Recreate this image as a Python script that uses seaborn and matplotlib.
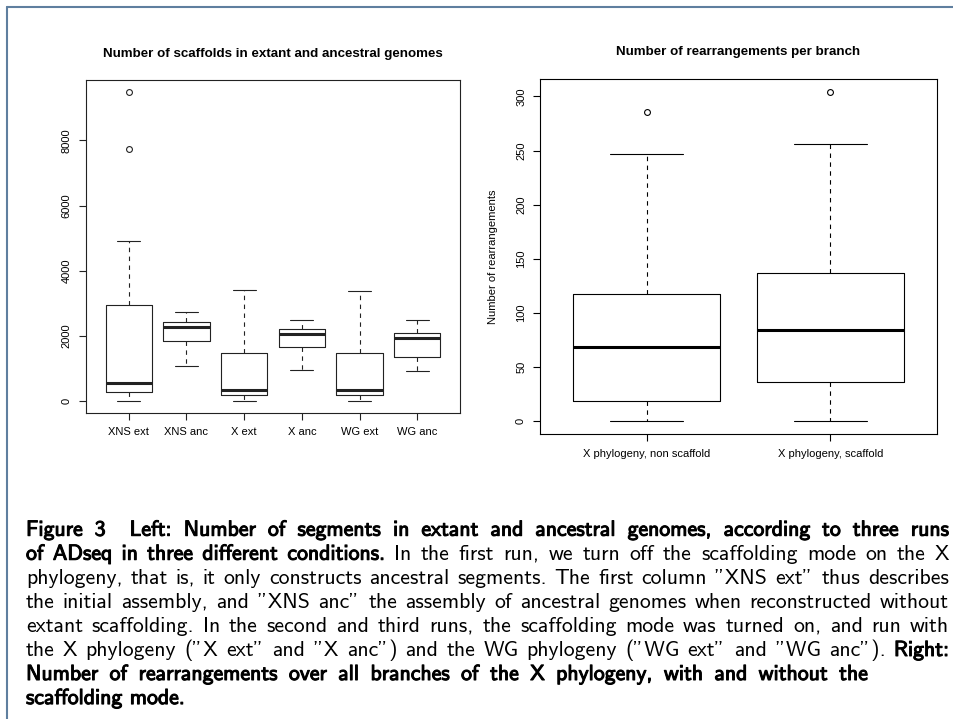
import matplotlib
matplotlib.use("Agg")
import matplotlib.pyplot as plt
import matplotlib.patheffects as pe
from matplotlib.lines import Line2D
import seaborn as sns

# ---- Left panel: number of scaffolds per genome, by run (box summaries) ----
seg_labels = ["XNS ext", "XNS anc", "X ext", "X anc", "WG ext", "WG anc"]
seg_low = [0, 1070, 0, 950, 0, 925]
seg_q1 = [265, 1845, 165, 1650, 165, 1335]
seg_med = [545, 2255, 320, 2050, 320, 1930]
seg_q3 = [2955, 2420, 1465, 2205, 1455, 2070]
seg_high = [4920, 2720, 3415, 2475, 3385, 2480]
seg_out = [[7730, 9480], [], [], [], [], []]
seg_yticks = [0, 2000, 4000, 6000, 8000]

# ---- Right panel: number of rearrangements per branch ----
rea_labels = ["X phylogeny, non scaffold", "X phylogeny, scaffold"]
rea_low = [0, 0]
rea_q1 = [18, 35.5]
rea_med = [68, 84]
rea_q3 = [117, 136.5]
rea_high = [247, 256]
rea_out = [[286], [304]]
rea_yticks = [0, 50, 100, 150, 200, 250, 300]

sns.set_theme(style="white", rc={
    "axes.edgecolor": "black", "axes.linewidth": 0.8,
    "text.color": "black", "axes.labelcolor": "black",
    "xtick.color": "black", "ytick.color": "black",
})
plt.rcParams["font.family"] = ["Liberation Sans", "DejaVu Sans"]

W, H = 954, 719
fig = plt.figure(figsize=(W / 100, H / 100), dpi=100)
fig.patch.set_facecolor("white")


def px_axes(left, top, right, bottom):
    return fig.add_axes([left / W, 1 - bottom / H, (right - left) / W, (bottom - top) / H])


def summaries(low, q1, med, q3, high, out, labels):
    return [dict(whislo=a, q1=b, med=c, q3=d, whishi=e, fliers=f, label=g)
            for a, b, c, d, e, f, g in zip(low, q1, med, q3, high, out, labels)]


def draw_boxes(ax, stats, yticks, line_color):
    n = len(stats)
    ax.bxp(stats, positions=list(range(1, n + 1)), widths=0.8, capwidths=0.4,
           showfliers=True,
           boxprops=dict(color=line_color, lw=0.8),
           medianprops=dict(color=line_color, lw=2.2, solid_capstyle="butt"),
           whiskerprops=dict(color=line_color, lw=0.8, linestyle=(0, (4, 4))),
           capprops=dict(color=line_color, lw=0.8),
           flierprops=dict(marker="o", markerfacecolor="none", markeredgecolor=line_color,
                           markersize=4.2, markeredgewidth=0.8))
    lo = min(s["whislo"] for s in stats)
    hi = max([s["whishi"] for s in stats] + [v for s in stats for v in s["fliers"]])
    pad = 0.04 * (hi - lo)
    ax.set_ylim(lo - pad, hi + pad)
    ax.set_xlim(0.5 - 0.04 * n, n + 0.5 + 0.04 * n)
    ax.set_yticks(yticks)
    ax.set_yticklabels([str(t) for t in yticks])
    ax.tick_params(axis="both", direction="out", length=5, width=0.8, color=line_color,
                   left=True, bottom=True, top=False, right=False, labelsize=8)
    ax.tick_params(axis="y", labelrotation=90, pad=5.5)
    ax.tick_params(axis="x", pad=5)
    for lab in ax.get_yticklabels():
        lab.set_va("center")
    for sp in ax.spines.values():
        sp.set_color(line_color)
        sp.set_linewidth(0.8)
    ax.grid(False)


ax1 = px_axes(86, 80, 460, 413)
draw_boxes(ax1, summaries(seg_low, seg_q1, seg_med, seg_q3, seg_high, seg_out, seg_labels),
           seg_yticks, "#222222")
ax1.set_title("Number of scaffolds in extant and ancestral genomes",
              fontsize=9.6, fontweight="bold", pad=16.5)

ax2 = px_axes(540, 79, 937, 434)
draw_boxes(ax2, summaries(rea_low, rea_q1, rea_med, rea_q3, rea_high, rea_out, rea_labels),
           rea_yticks, "black")
ax2.tick_params(axis="y", pad=5)
ax2.tick_params(axis="x", pad=5.5)
ax2.set_title("Number of rearrangements per branch", fontsize=9.6, fontweight="bold", pad=17)
ax2.set_ylabel("Number of rearrangements", fontsize=8, va="center")
ax2.yaxis.set_label_coords(-0.118, 0.5)

# ---- page frame (left and top rule) ----
frame_color = "#5f7f9f"
fig.add_artist(Line2D([7.3 / W, 7.3 / W], [0, 1 - 7.3 / H], transform=fig.transFigure,
                      color=frame_color, lw=1.5))
fig.add_artist(Line2D([7.3 / W, 1], [1 - 7.3 / H, 1 - 7.3 / H], transform=fig.transFigure,
                      color=frame_color, lw=1.5))

# ---- caption: justified lines with bold and regular runs ----
caption = [
    ([("Figure 3", True),
      ("Left: Number of segments in extant and ancestral genomes, according to three runs", True)], 949),
    ([("of ADseq in three different conditions.", True),
      ("In the first run, we turn off the scaffolding mode on the X", False)], 949),
    ([("phylogeny, that is, it only constructs ancestral segments. The first column \"XNS ext\" thus describes", False)], 949),
    ([("the initial assembly, and \"XNS anc\" the assembly of ancestral genomes when reconstructed without", False)], 949),
    ([("extant scaffolding. In the second and third runs, the scaffolding mode was turned on, and run with", False)], 949),
    ([("the X phylogeny (\"X ext\" and \"X anc\") and the WG phylogeny (\"WG ext\" and \"WG anc\").", False),
      ("Right:", True)], 949),
    ([("Number of rearrangements over all branches of the X phylogeny, with and without the", True)], 868),
    ([("scaffolding mode.", True)], None),
]
cap_font = "cmss10"
cap_left = 26
cap_base0 = 535.7
cap_step = 24.05
space_em = 0.333

renderer = fig.canvas.get_renderer()


def word_width(word, size):
    t = fig.text(0, 0, word, family=cap_font, fontsize=size)
    w = t.get_window_extent(renderer).width
    t.remove()
    return w


def line_tokens(runs):
    toks = []
    for text, bold in runs:
        for w in text.split(" "):
            toks.append((w, bold))
    return toks


# font size chosen so that the plain (regular) lines set naturally to the column width
probe = 10.0
nat = []
for runs, right in caption[2:5]:
    toks = line_tokens(runs)
    ww = sum(word_width(w, probe) for w, _ in toks)
    nat.append(ww + (len(toks) - 1) * space_em * probe * 100 / 72)
cap_size = probe * (949 - cap_left - 6) / max(nat)
bold_fx = [pe.withStroke(linewidth=0.75, foreground="black")]

for i, (runs, right) in enumerate(caption):
    tokens = line_tokens(runs)
    weights = [1.0] * len(tokens)
    if i == 0:
        weights[2] = 2.0  # wider gap after the figure number
    y = 1 - (cap_base0 + i * cap_step) / H
    artists = []
    for w, bold in tokens:
        t = fig.text(0, y, w, family=cap_font, fontsize=cap_size, va="baseline", ha="left",
                     color="black", path_effects=bold_fx if bold else None)
        artists.append(t)
    widths = [a.get_window_extent(renderer).width for a in artists]
    if right is None:
        gap = space_em * cap_size * 100 / 72
    else:
        gap = (right - cap_left - sum(widths)) / sum(weights[1:])
    x = cap_left
    for k, (a, wd) in enumerate(zip(artists, widths)):
        if k > 0:
            x += gap * weights[k]
        a.set_x(x / W)
        x += wd

fig.savefig("out.png", dpi=100, facecolor="white")
